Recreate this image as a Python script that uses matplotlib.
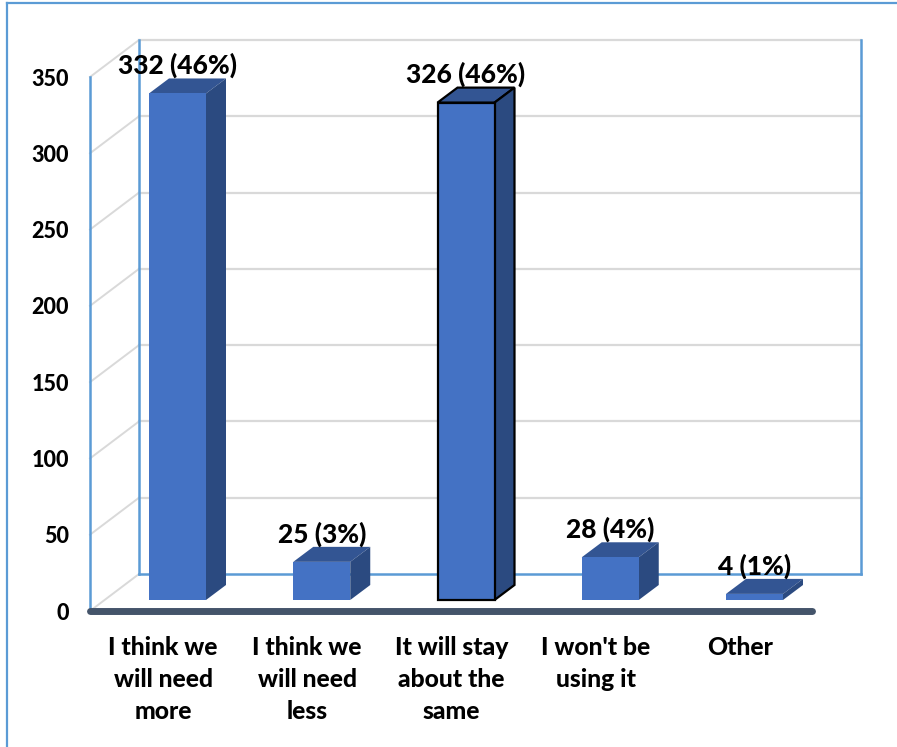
import matplotlib
matplotlib.use("Agg")
import matplotlib.pyplot as plt
from matplotlib.lines import Line2D
from matplotlib.patches import Polygon

categories = ["I think we\nwill need\nmore", "I think we\nwill need\nless", "It will stay\nabout the\nsame",
              "I won't be\nusing it", "Other"]
values = [332, 25, 326, 28, 4]
percents = [46, 3, 46, 4, 1]
yticks = [0, 50, 100, 150, 200, 250, 300, 350]

W, H = 897, 747
BLUE = "#5B9BD5"
GREY = "#D9D9D9"
FRONT, TOP, SIDE = "#4472C4", "#335593", "#2B4A80"

plt.rcParams["font.family"] = ["Lato", "DejaVu Sans"]
plt.rcParams["font.weight"] = "black"

fig = plt.figure(figsize=(W / 100, H / 100), dpi=100)
# axes box = the front wall of the fake 3d chart, in reference pixels
ax = fig.add_axes([90 / W, (H - 611) / H, (812 - 90) / W, (611 - 77) / H])
px_x, px_y = 144.25, 534 / 350           # pixels per category / per unit
x0 = lambda p: (p - 177.5) / px_x
ax.set_xlim(x0(90), x0(812))
ax.set_ylim(0, 350)

back_dy = 37 / px_y                      # front wall -> back wall
back_l, back_r = x0(139), x0(861)
base = 11 / px_y                         # bars stand a bit behind the front edge
half = 28.5 / px_x
dx, dy = 20 / px_x, 15 / px_y

# walls
for v in yticks[1:]:
    ax.plot([back_l, back_r], [v + back_dy] * 2, color=GREY, lw=1.6, clip_on=False, zorder=1)
for v in yticks:
    ax.plot([ax.get_xlim()[0], back_l], [v, v + back_dy], color=GREY, lw=1.4, clip_on=False, zorder=1)
ax.plot([back_l, back_l], [back_dy, 350 + back_dy], color=BLUE, lw=1.8, clip_on=False, zorder=1.5)
ax.plot([back_r, back_r], [back_dy, 350 + back_dy], color=BLUE, lw=1.8, clip_on=False, zorder=1.5)
ax.plot([back_l, back_r], [back_dy, back_dy], color=BLUE, lw=1.8, clip_on=False, zorder=1.5)

# bars, each one built from three faces
for i, (v, pct) in enumerate(zip(values, percents)):
    l, r, b, t = i - half, i + half, base, base + v
    ec = "black" if i == 2 else "none"
    lw = 1.6 if i == 2 else 0
    ax.add_patch(Polygon([(l, t), (r, t), (r + dx, t + dy), (l + dx, t + dy)], fc=TOP, ec=ec, lw=lw, clip_on=False, zorder=3))
    ax.add_patch(Polygon([(r, b), (r + dx, b + dy), (r + dx, t + dy), (r, t)], fc=SIDE, ec=ec, lw=lw, clip_on=False, zorder=3))
    ax.add_patch(Polygon([(l, b), (r, b), (r, t), (l, t)], fc=FRONT, ec=ec, lw=lw, clip_on=False, zorder=3))
    ax.annotate(f"{v} ({pct}%)", (i, t), xytext=(0, 28), textcoords="offset pixels", ha="center", va="center",
                fontsize=19, color="black", zorder=5, annotation_clip=False)

for s in ["top", "right"]:
    ax.spines[s].set_visible(False)
ax.spines["left"].set_color(BLUE)
ax.spines["left"].set_linewidth(1.8)
ax.spines["bottom"].set_color("#44546A")
ax.spines["bottom"].set_linewidth(5)
ax.spines["bottom"].set_capstyle("round")
ax.spines["bottom"].set_zorder(4)
ax.patch.set_alpha(0)

ax.set_yticks(yticks)
ax.tick_params(axis="y", length=0, pad=15, labelsize=15.5)
ax.set_xticks([i - 14.5 / px_x for i in range(len(categories))])
ax.set_xticklabels(categories, va="top", linespacing=1.48)
ax.tick_params(axis="x", length=0, pad=18, labelsize=17.8)

# outer frame of the screenshot
fig.add_artist(Line2D([7 / W, 7 / W], [0, (H - 3) / H], color=BLUE, lw=1.6))
fig.add_artist(Line2D([7 / W, 1], [(H - 3) / H] * 2, color=BLUE, lw=1.6))

fig.savefig("out.png", dpi=100)
